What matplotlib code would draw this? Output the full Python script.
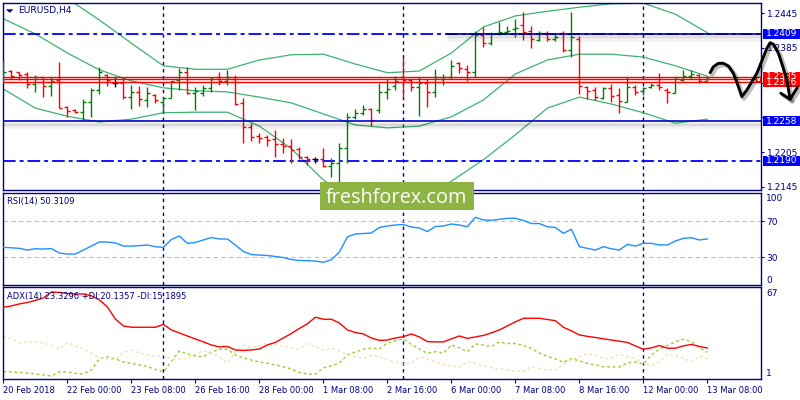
import matplotlib
matplotlib.use('Agg')
import matplotlib.pyplot as plt
import matplotlib.patheffects as pe
from matplotlib.patches import Rectangle, Polygon
from matplotlib.transforms import blended_transform_factory
import numpy as np

# EURUSD H4 bars
opens = [1.2342, 1.2345, 1.2343, 1.2339, 1.2323, 1.2334, 1.2320, 1.2329, 1.2283, 1.2278,
         1.2275, 1.2292, 1.2313, 1.2338, 1.2325, 1.2325, 1.2301, 1.2308, 1.2295, 1.2304,
         1.2292, 1.2298, 1.2329, 1.2344, 1.2307, 1.2307, 1.2315, 1.2335, 1.2327, 1.2332,
         1.2290, 1.2248, 1.2233, 1.2232, 1.2227, 1.2219, 1.2216, 1.2210, 1.2196, 1.2193,
         1.2193, 1.2181, 1.2187, 1.2212, 1.2265, 1.2273, 1.2279, 1.2277, 1.2309, 1.2319,
         1.2334, 1.2329, 1.2317, 1.2325, 1.2308, 1.2332, 1.2334, 1.2358, 1.2348, 1.2344,
         1.2407, 1.2394, 1.2411, 1.2413, 1.2417, 1.2424, 1.2414, 1.2398, 1.2410, 1.2400,
         1.2410, 1.2382, 1.2401, 1.2317, 1.2313, 1.2298, 1.2315, 1.2304, 1.2292, 1.2318,
         1.2311, 1.2317, 1.2321, 1.2312, 1.2307, 1.2329, 1.2336, 1.2338, 1.2328]
highs = [1.2363, 1.2346, 1.2344, 1.2343, 1.2338, 1.2335, 1.2335, 1.2361, 1.2285, 1.2280,
         1.2296, 1.2315, 1.2352, 1.2340, 1.2335, 1.2335, 1.2321, 1.2319, 1.2318, 1.2305,
         1.2301, 1.2327, 1.2350, 1.2352, 1.2318, 1.2321, 1.2335, 1.2344, 1.2347, 1.2338,
         1.2298, 1.2255, 1.2238, 1.2235, 1.2243, 1.2229, 1.2227, 1.2214, 1.2198, 1.2197,
         1.2212, 1.2195, 1.2221, 1.2272, 1.2279, 1.2286, 1.2281, 1.2324, 1.2332, 1.2336,
         1.2369, 1.2332, 1.2335, 1.2332, 1.2348, 1.2340, 1.2364, 1.2361, 1.2355, 1.2414,
         1.2421, 1.2413, 1.2430, 1.2423, 1.2434, 1.2446, 1.2423, 1.2414, 1.2414, 1.2410,
         1.2414, 1.2447, 1.2405, 1.2319, 1.2317, 1.2318, 1.2323, 1.2315, 1.2334, 1.2321,
         1.2317, 1.2324, 1.2342, 1.2315, 1.2335, 1.2347, 1.2346, 1.2340, 1.2336]
lows = [1.2324, 1.2331, 1.2329, 1.2315, 1.2308, 1.2300, 1.2302, 1.2281, 1.2265, 1.2272,
        1.2258, 1.2265, 1.2305, 1.2319, 1.2317, 1.2296, 1.2279, 1.2285, 1.2283, 1.2289,
        1.2273, 1.2298, 1.2313, 1.2305, 1.2277, 1.2302, 1.2308, 1.2321, 1.2321, 1.2286,
        1.2221, 1.2225, 1.2220, 1.2215, 1.2197, 1.2203, 1.2187, 1.2193, 1.2183, 1.2186,
        1.2179, 1.2162, 1.2150, 1.2186, 1.2262, 1.2269, 1.2250, 1.2273, 1.2296, 1.2312,
        1.2298, 1.2311, 1.2267, 1.2283, 1.2301, 1.2321, 1.2332, 1.2342, 1.2327, 1.2334,
        1.2386, 1.2390, 1.2407, 1.2411, 1.2403, 1.2398, 1.2384, 1.2396, 1.2396, 1.2396,
        1.2377, 1.2369, 1.2305, 1.2296, 1.2295, 1.2296, 1.2292, 1.2272, 1.2292, 1.2304,
        1.2304, 1.2315, 1.2312, 1.2290, 1.2307, 1.2327, 1.2332, 1.2325, 1.2327]
closes = [1.2343, 1.2336, 1.2338, 1.2323, 1.2335, 1.2319, 1.2328, 1.2282, 1.2276, 1.2274,
          1.2292, 1.2312, 1.2344, 1.2329, 1.2325, 1.2300, 1.2308, 1.2297, 1.2307, 1.2295,
          1.2298, 1.2327, 1.2344, 1.2307, 1.2311, 1.2315, 1.2332, 1.2327, 1.2334, 1.2288,
          1.2248, 1.2232, 1.2229, 1.2226, 1.2219, 1.2216, 1.2209, 1.2197, 1.2193, 1.2193,
          1.2181, 1.2186, 1.2212, 1.2265, 1.2273, 1.2279, 1.2261, 1.2308, 1.2314, 1.2328,
          1.2329, 1.2318, 1.2324, 1.2308, 1.2334, 1.2335, 1.2354, 1.2350, 1.2344, 1.2407,
          1.2394, 1.2409, 1.2413, 1.2414, 1.2420, 1.2413, 1.2401, 1.2411, 1.2400, 1.2403,
          1.2382, 1.2404, 1.2319, 1.2311, 1.2300, 1.2315, 1.2302, 1.2294, 1.2317, 1.2308,
          1.2315, 1.2321, 1.2317, 1.2309, 1.2334, 1.2336, 1.2340, 1.2328, 1.2334]

# Bollinger bands, sampled every 4 bars
bb_bars = list(range(0, 89, 4))
bb_upper = [1.2550, 1.2530, 1.2470, 1.2433, 1.2393, 1.2354, 1.2348, 1.2348, 1.2364, 1.2373, 1.2374, 1.2357,
            1.2342, 1.2345, 1.2376, 1.2421, 1.2440, 1.2448, 1.2455, 1.2461, 1.2462, 1.2443, 1.2411]
bb_mid = [1.2435, 1.2409, 1.2376, 1.2347, 1.2328, 1.2316, 1.2311, 1.2309, 1.2300, 1.2290, 1.2271, 1.2252,
          1.2247, 1.2250, 1.2266, 1.2295, 1.2340, 1.2364, 1.2374, 1.2374, 1.2369, 1.2354, 1.2336]
bb_lower = [1.2314, 1.2281, 1.2267, 1.2257, 1.2262, 1.2273, 1.2274, 1.2274, 1.2250, 1.2211, 1.2157, 1.2123,
            1.2105, 1.2123, 1.2155, 1.2192, 1.2235, 1.2281, 1.2300, 1.2288, 1.2273, 1.2255, 1.2262]

rsi = [41.0, 40.5, 39.9, 38.0, 39.5, 39.1, 39.7, 34.7, 33.6, 33.6,
       38.0, 42.4, 46.9, 46.9, 45.8, 42.4, 42.4, 42.8, 43.6, 41.7,
       41.0, 49.6, 53.5, 45.4, 46.3, 49.1, 51.8, 50.2, 50.2, 43.6,
       36.4, 33.1, 32.5, 32.0, 30.9, 29.8, 27.6, 26.5, 26.3, 25.9,
       24.5, 27.4, 35.8, 52.4, 55.7, 56.2, 56.8, 62.8, 64.5, 65.6,
       66.1, 63.4, 62.3, 58.4, 63.9, 64.5, 66.7, 65.6, 63.7, 74.1,
       71.1, 70.8, 71.9, 73.0, 73.0, 70.6, 67.2, 67.2, 63.7, 62.8,
       56.4, 60.9, 41.7, 39.9, 38.0, 41.7, 39.4, 38.0, 44.3, 42.4,
       45.4, 45.4, 43.6, 43.6, 48.0, 50.9, 51.6, 49.1, 50.3]

adx = [53.7, 54.7, 56.2, 57.3, 58.8, 60.7, 65.1, 64.8, 64.0, 63.6,
       63.6, 62.2, 59.2, 54.0, 45.0, 39.8, 38.8, 38.8, 38.8, 38.8,
       41.0, 36.8, 34.6, 32.3, 30.1, 27.9, 25.6, 24.1, 24.5, 21.9,
       21.5, 21.9, 22.6, 25.6, 27.5, 30.8, 34.2, 37.9, 41.3, 46.3,
       44.8, 44.8, 42.0, 36.8, 34.9, 33.8, 30.8, 29.0, 29.3, 30.8,
       31.8, 33.8, 31.6, 28.1, 27.9, 27.9, 30.1, 32.3, 30.5, 31.6,
       32.7, 34.6, 36.8, 39.8, 42.8, 45.5, 45.5, 45.5, 44.6, 43.7,
       38.8, 36.1, 33.1, 32.0, 31.2, 30.2, 29.3, 28.4, 27.5, 24.9,
       22.4, 23.4, 25.2, 23.2, 23.2, 24.9, 26.0, 24.5, 23.3]
plus_di = [5.7, 5.5, 5.1, 4.7, 4.0, 3.2, 2.5, 5.5, 5.5, 4.4,
           4.0, 7.0, 15.5, 16.7, 15.2, 12.9, 11.8, 10.7, 9.6, 7.3,
           5.7, 13.2, 21.1, 18.9, 17.4, 16.9, 20.4, 22.4, 22.4, 18.2,
           15.9, 14.4, 12.9, 12.0, 10.7, 9.4, 7.7, 5.1, 4.0, 3.8,
           8.5, 10.0, 12.2, 18.2, 20.4, 22.4, 23.4, 22.6, 27.1, 28.6,
           30.1, 26.0, 22.6, 19.4, 20.6, 19.4, 25.6, 23.4, 20.6, 26.4,
           25.6, 24.5, 27.9, 26.7, 26.7, 25.2, 23.0, 19.6, 17.0, 15.2,
           12.7, 15.5, 13.7, 11.8, 10.7, 9.4, 9.2, 9.2, 12.2, 12.9,
           11.4, 18.2, 22.3, 25.2, 27.9, 29.9, 28.1, 23.7, 20.1]
minus_di = [32.3, 30.1, 27.1, 27.9, 28.1, 27.1, 25.6, 22.4, 27.3, 25.0,
            22.6, 19.4, 16.0, 15.0, 14.8, 20.0, 21.9, 19.6, 18.2, 17.0,
            18.2, 14.8, 15.2, 15.7, 18.9, 21.1, 19.6, 16.7, 12.2, 20.4,
            25.6, 23.4, 24.9, 26.9, 25.6, 24.9, 23.4, 22.4, 26.4, 24.1,
            21.9, 23.2, 21.1, 18.2, 16.7, 15.7, 18.2, 16.7, 14.4, 12.9,
            11.4, 12.2, 16.7, 15.2, 12.9, 11.1, 10.0, 9.0, 12.9, 11.8,
            10.2, 8.8, 7.7, 7.0, 6.2, 5.9, 9.4, 8.1, 7.0, 7.0,
            11.4, 14.4, 16.9, 18.9, 18.2, 15.2, 15.9, 18.7, 16.7, 15.2,
            12.2, 10.3, 12.9, 18.9, 17.4, 15.7, 12.9, 17.4, 15.2]

date_labels = ['20 Feb 2018', '22 Feb 00:00', '23 Feb 08:00', '26 Feb 16:00', '28 Feb 00:00', '1 Mar 08:00',
               '2 Mar 16:00', '6 Mar 00:00', '7 Mar 08:00', '8 Mar 16:00', '12 Mar 00:00', '13 Mar 08:00']
label_bars = list(range(0, 89, 8))
week_bars = [20, 50, 80]
price_ticks = [1.2445, 1.2385, 1.2325, 1.2265, 1.2205, 1.2145]
price_tick_labels = ['1.2445', '1.2385', '', '', '1.2205', '1.2145']  # two are covered by level boxes

red_levels = [1.2335, 1.2332, 1.2326]
resistance = 1.2409
support = 1.2258
support_2 = 1.2190
resistance_from_bar = 55.5

# hand-drawn forecast zigzag (bar, price)
forecast_bar = [88.34, 88.75, 89.38, 90.0, 90.63, 91.25, 91.88, 92.3, 92.93, 94.18, 95.43, 95.84,
                96.25, 96.88, 97.43, 97.93, 98.25, 98.34]
forecast_price = [1.23421, 1.23524, 1.23583, 1.23583, 1.23536, 1.23410, 1.23179, 1.23007, 1.23122,
                  1.23410, 1.23841, 1.23938, 1.23910, 1.23755, 1.23524, 1.23295, 1.23036, 1.22962]
arrow_head_bar = [97.18, 98.34, 99.25]
arrow_head_price = [1.23066, 1.22962, 1.23169]

W, H = 800, 400
NAVY = '#000080'


def box(x0, y0, x1, y1):
    return [x0 / W, 1 - y1 / H, (x1 - x0) / W, (y1 - y0) / H]


fig = plt.figure(figsize=(8, 4), dpi=100)
fig.patch.set_facecolor('white')
ax = fig.add_axes(box(2.7, 2.7, 761, 190))
ax_rsi = fig.add_axes(box(2.7, 192.7, 761, 285))
ax_adx = fig.add_axes(box(2.7, 287.3, 761, 379.3))

bars = np.arange(len(opens))
for a in (ax, ax_rsi, ax_adx):
    a.set_xlim(-0.08, 94.7)
    for s in a.spines.values():
        s.set_color(NAVY)
        s.set_linewidth(1)
    a.set_xticks([])
    a.tick_params(axis='y', left=False, labelleft=False, right=True, labelright=True,
                  direction='out', length=2.5, width=0.8, color=NAVY, labelcolor=NAVY,
                  labelsize=6.5, pad=1.5)
    for b in week_bars:
        a.axvline(b, color=NAVY, lw=1, ls=(0, (2.5, 2.5)), zorder=1)

# ---- price panel ----
ax.set_ylim(1.21398, 1.24628)
ax.set_yticks(price_ticks, price_tick_labels)

for band in (bb_upper, bb_mid, bb_lower):
    ax.plot(bb_bars, band, color='#3cb371', lw=0.9, zorder=2)

colors = ['#008000' if c > o else '#ff0000' if c < o else 'black' for o, c in zip(opens, closes)]
ax.vlines(bars, lows, highs, colors=colors, lw=1, zorder=3)
ax.hlines(opens, bars - 0.38, bars, colors=colors, lw=1, zorder=3)
ax.hlines(closes, bars, bars + 0.38, colors=colors, lw=1, zorder=3)

dashdot = (0, (7, 2.2, 2.2, 2.2))
ax.axhline(resistance, color='#0000ff', lw=1.3, ls=dashdot, zorder=2)
ax.axhline(support_2, color='#0000ff', lw=1.3, ls=dashdot, zorder=2)
shadow = [pe.SimpleLineShadow(offset=(1, -1.5), shadow_color='black', alpha=0.10, linewidth=2.5),
          pe.SimpleLineShadow(offset=(1, -3.5), shadow_color='black', alpha=0.05, linewidth=3.5),
          pe.Normal()]
ax.plot([resistance_from_bar, 94.7], [resistance, resistance], color='#00008b', lw=1.2,
        path_effects=shadow, zorder=4)
ax.axhline(support, color='#0000cd', lw=1.2, path_effects=shadow, zorder=4)
for lvl in red_levels:
    ax.axhline(lvl, color='red', lw=1, zorder=4)
ax.plot(94.3, red_levels[1], marker='s', ms=3.5, mfc='white', mec='red', mew=0.8, zorder=5, clip_on=False)

tr = blended_transform_factory(ax.transAxes, ax.transData)
px_w = 758.3


def price_box(level, color):
    ax.add_patch(Rectangle((1 + 2 / px_w, level - 0.00086), 37 / px_w, 0.00172, transform=tr,
                           facecolor=color, edgecolor='none', clip_on=False, zorder=6))
    ax.text(1 + 4.5 / px_w, level, f'{level:.4f}', transform=tr, color='white', fontsize=6.5,
            ha='left', va='center', clip_on=False, zorder=7)


price_box(red_levels[2], '#ff0000')
price_box(red_levels[0], '#ff0000')
for lvl in (resistance, support, support_2):
    price_box(lvl, '#0000ff')

arrow_fx = [pe.SimpleLineShadow(offset=(1.5, -1.5), shadow_color='black', alpha=0.25, linewidth=3), pe.Normal()]
ax.plot(forecast_bar, forecast_price, color='black', lw=2.1, solid_capstyle='round',
        solid_joinstyle='round', clip_on=False, zorder=8, path_effects=arrow_fx)
ax.plot(arrow_head_bar, arrow_head_price, color='black', lw=2.1, solid_capstyle='round',
        solid_joinstyle='round', clip_on=False, zorder=8, path_effects=arrow_fx)

# ---- RSI panel ----
ax_rsi.set_ylim(-0.5, 101.2)
ax_rsi.set_yticks([70, 30], ['70', '30'])
for lvl in (70, 30):
    ax_rsi.axhline(lvl, color='#c0c0c0', lw=0.8, ls=(0, (4, 3)), zorder=1)
ax_rsi.plot(bars, rsi, color='#1e90ff', lw=1, zorder=3)
tr_rsi = blended_transform_factory(ax_rsi.transAxes, ax_rsi.transData)
ax_rsi.text(1 + 5 / px_w, 100, '100', transform=tr_rsi, color=NAVY, fontsize=6.5, va='top', clip_on=False)
ax_rsi.text(1 + 5 / px_w, 0, '0', transform=tr_rsi, color=NAVY, fontsize=6.5, va='bottom', clip_on=False)

# ---- ADX panel ----
ax_adx.set_ylim(0, 68.6)
ax_adx.set_yticks([])
ax_adx.plot(bars, adx, color='red', lw=1, zorder=3)
ax_adx.plot(bars, plus_di, color='#9acd32', lw=1, ls=(0, (2, 2)), zorder=2)
ax_adx.plot(bars, minus_di, color='#f5deb3', lw=1, ls=(0, (2, 2)), zorder=2)
tr_adx = blended_transform_factory(ax_adx.transAxes, ax_adx.transData)
ax_adx.text(1 + 5 / px_w, 67, '67', transform=tr_adx, color=NAVY, fontsize=6.5, va='top', clip_on=False)
ax_adx.text(1 + 5 / px_w, 1, '1', transform=tr_adx, color=NAVY, fontsize=6.5, va='bottom', clip_on=False)
ax_adx.set_xticks(label_bars, date_labels)
ax_adx.tick_params(axis='x', bottom=True, direction='out', length=3, width=0.8, color=NAVY,
                   labelcolor=NAVY, labelsize=6, pad=1.5)
for lbl in ax_adx.get_xticklabels():
    lbl.set_horizontalalignment('left')

# ---- panel captions ----
fig.add_artist(Polygon([(6.7 / W, 1 - 9.7 / H), (12.7 / W, 1 - 9.7 / H), (9.7 / W, 1 - 12.3 / H)],
                       closed=True, transform=fig.transFigure, facecolor=NAVY, edgecolor=NAVY, lw=0.5))
fig.text(18.3 / W, 1 - 10.7 / H, 'EURUSD,H4', color=NAVY, fontsize=6.6, va='center', ha='left')
fig.text(7.3 / W, 1 - 201.7 / H, 'RSI(14) 50.3109', color=NAVY, fontsize=6, va='center', ha='left')
fig.text(7.3 / W, 1 - 296.7 / H, 'ADX(14) 23.3296 +DI:20.1357 -DI:15.1895', color=NAVY,
         fontsize=6, va='center', ha='left')

# ---- watermark ----
fig.add_artist(Rectangle((320 / W, 1 - 210 / H), 154 / W, 28.3 / H, transform=fig.transFigure,
                         facecolor='#8db442', edgecolor='none', zorder=10))
fig.text(396.5 / W, 1 - 203.3 / H, 'freshforex.com', color='white', fontsize=14.3,
         family='Open Sans', ha='center', va='baseline', zorder=11)

fig.savefig('out.png', dpi=100, facecolor='white')
